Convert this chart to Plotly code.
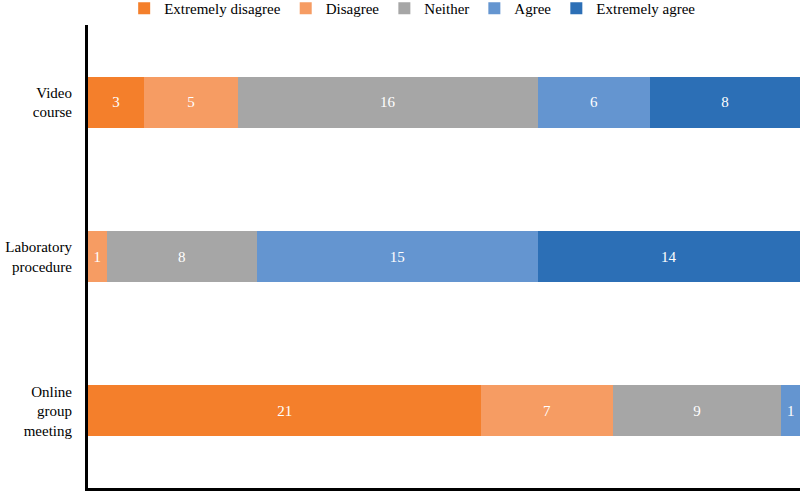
import plotly.graph_objects as go

categories = ["Online<br>group<br>meeting", "Laboratory<br>procedure", "Video<br>course"]
series_names = ["Extremely disagree", "Disagree", "Neither", "Agree", "Extremely agree"]
extremely_disagree = [21, 0, 3]
disagree = [7, 1, 5]
neither = [9, 8, 16]
agree = [1, 15, 6]
extremely_agree = [0, 14, 8]
colors = ["#F47F2B", "#F69C63", "#A6A6A6", "#6495D0", "#2C6FB6"]

series = [extremely_disagree, disagree, neither, agree, extremely_agree]
FONT = "Liberation Serif, Times New Roman, serif"

fig = go.Figure()
for name, vals, col in zip(series_names, series, colors):
    fig.add_trace(go.Bar(
        y=categories, x=vals, name=name, orientation="h",
        marker=dict(color=col, line=dict(width=0)),
        text=[str(v) if v else "" for v in vals],
        textposition="inside", insidetextanchor="middle",
        textangle=0, constraintext="none",
        textfont=dict(color="white", size=15, family=FONT),
    ))

fig.update_layout(
    barmode="stack", bargap=0.67,
    width=800, height=491,
    margin=dict(l=88, r=0, t=25, b=3, autoexpand=False),
    plot_bgcolor="white", paper_bgcolor="white",
    font=dict(family=FONT, size=15, color="black"),
    legend=dict(orientation="h", x=0.456, xanchor="center", y=1.0, yanchor="bottom",
                traceorder="normal", font=dict(size=15, family=FONT), itemwidth=30,
                tracegroupgap=0, itemsizing="constant"),
    xaxis=dict(range=[0, 38], showgrid=False, showticklabels=False, zeroline=False,
               showline=True, linecolor="black", linewidth=3, ticks=""),
    yaxis=dict(range=[-0.5, 2.5], showgrid=False, showline=True, linecolor="black",
               linewidth=3, ticks="", ticklabelstandoff=10,
               tickfont=dict(family=FONT, size=15)),
)

fig.write_html("out.html", config={"displayModeBar": False},
               post_script="document.body.style.margin='0';")
